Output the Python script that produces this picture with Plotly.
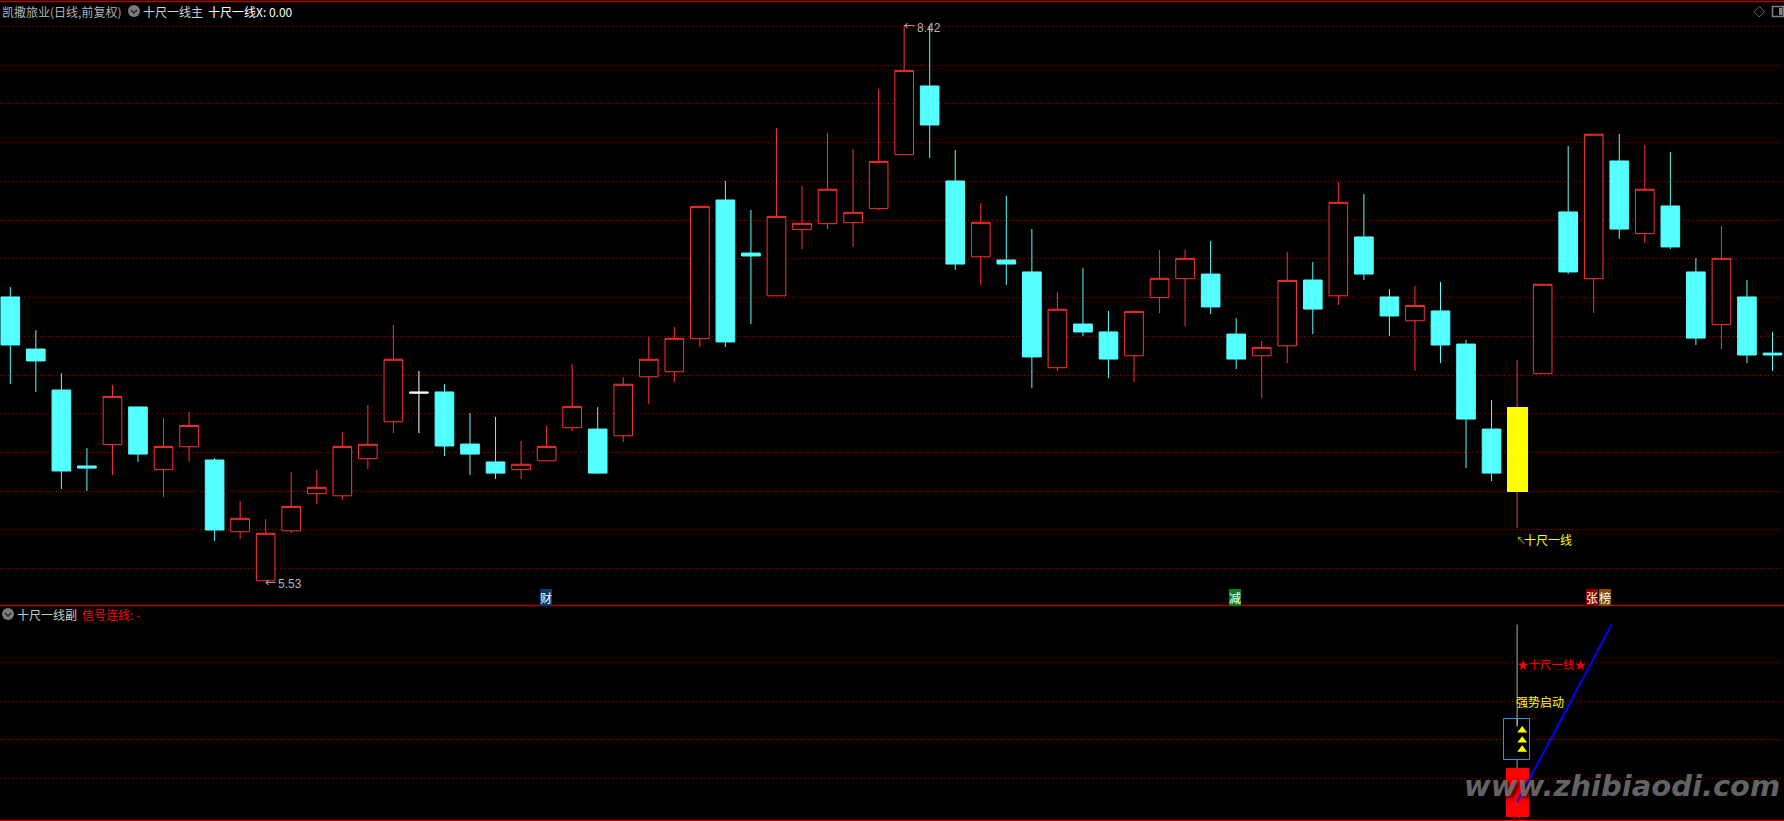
import plotly.graph_objects as go

W, H = 1784, 821
# ---- main pane daily prices ----
kinds = ["c","c","c","c","r","c","r","r","c","r","r","r","r","r","r","r","w","c","c","c",
         "r","r","r","c","r","r","r","r","c","c","r","r","r","r","r","r","c","c","r","c",
         "c","r","c","c","r","r","r","c","c","r","r","c","r","c","c","r","c","c","c","y",
         "r","c","r","c","r","c","c","r","c","c"]
highs = [7.058,6.834,6.610,6.220,6.548,6.434,6.376,6.408,6.168,5.945,5.851,6.096,6.106,6.304,6.444,6.860,6.621,6.553,6.402,6.382,
         6.257,6.335,6.657,6.434,6.588,6.798,6.850,7.477,7.609,7.458,7.884,7.583,7.858,7.775,8.087,8.420,8.415,7.770,7.494,7.531,
         7.359,7.032,7.156,6.933,6.933,7.250,7.250,7.297,6.896,6.777,7.240,7.188,7.604,7.541,7.047,7.063,7.084,6.782,6.470,6.678,
         7.072,7.791,7.852,7.853,7.796,7.760,7.208,7.375,7.094,6.824]
tops  = [7.006,6.735,6.522,6.127,6.489,6.434,6.229,6.338,6.158,5.855,5.777,5.917,6.016,6.229,6.240,6.682,6.512,6.512,6.241,6.148,
         6.136,6.229,6.437,6.319,6.552,6.682,6.791,7.477,7.510,7.234,7.425,7.389,7.566,7.446,7.711,8.184,8.103,7.609,7.394,7.198,
         7.136,6.942,6.865,6.824,6.931,7.103,7.207,7.125,6.813,6.744,7.092,7.094,7.498,7.318,7.006,6.962,6.933,6.761,6.319,6.434,
         7.072,7.448,7.852,7.713,7.566,7.479,7.136,7.207,7.006,6.714]
bots  = [6.756,6.673,6.101,6.116,6.238,6.189,6.108,6.227,5.794,5.785,5.530,5.790,5.983,5.972,6.165,6.357,6.506,6.231,6.189,6.090,
         6.108,6.154,6.326,6.090,6.284,6.591,6.617,6.789,6.772,7.219,7.012,7.356,7.387,7.392,7.465,7.746,7.900,7.177,7.215,7.177,
         6.694,6.638,6.824,6.683,6.700,7.002,7.101,6.954,6.683,6.700,6.752,6.943,7.012,7.125,6.907,6.882,6.756,6.371,6.090,5.992,
         6.607,7.136,7.101,7.359,7.335,7.266,6.792,6.862,6.704,6.704]
lows  = [6.553,6.512,6.007,5.997,6.080,6.148,5.966,6.148,5.737,5.747,5.530,5.778,5.929,5.950,6.111,6.298,6.298,6.179,6.080,6.059,
         6.059,6.154,6.309,6.090,6.252,6.449,6.564,6.746,6.746,6.865,7.012,7.255,7.359,7.266,7.458,7.746,7.728,7.146,7.068,7.068,
         6.532,6.621,6.803,6.584,6.564,6.922,6.855,6.917,6.631,6.480,6.662,6.813,6.964,7.094,6.803,6.621,6.662,6.116,6.049,5.804,
         6.607,7.125,6.922,7.307,7.286,7.255,6.756,6.735,6.662,6.621]
grid_prices = [8.413,8.212,8.010,7.809,7.607,7.406,7.205,7.003,6.802,6.600,6.399,6.197,5.996,5.795,5.593]
# ---- lower pane signal values ----
lower_grid = [20, 40, 60, 80]
signal_x = 59
stick_top = 100
red_bar_top = 25.5
box_top, box_bot = 50.9, 29.5
tri_x = 59.2
tri_vals = [45.0, 39.8, 35.0]
line_x = [59, 62.7]
line_y = [7.6, 100]

RED, CYAN, YELLOW = "#ff3232", "#54ffff", "#ffff00"
GRID = "#9a0000"
FRAME = "#b00000"
GRAY = "#b4b4b4"
CJK = "Noto Sans CJK SC"
SPLIT = 1 - 606 / H

idx = list(range(len(highs)))
def pick(kind):
    return [i for i in idx if kinds[i] in kind]

fig = go.Figure()

def candle(ix, color, fill, width=1, op=None, cl=None, hi=None, lo=None):
    fig.add_trace(go.Candlestick(
        x=ix, open=op, close=cl, high=hi, low=lo,
        increasing=dict(line=dict(color=color, width=width), fillcolor=fill),
        decreasing=dict(line=dict(color=color, width=width), fillcolor=fill),
        hoverinfo="skip", showlegend=False, xaxis="x", yaxis="y"))

r = pick("r")
candle(r, RED, "#000000", op=[bots[i] for i in r], cl=[tops[i] for i in r],
       hi=[highs[i] for i in r], lo=[lows[i] for i in r])
c = pick("c")
candle(c, CYAN, CYAN, op=[tops[i] for i in c], cl=[bots[i] for i in c],
       hi=[highs[i] for i in c], lo=[lows[i] for i in c])
w = pick("w")
candle(w, "#ffffff", "#ffffff", op=[tops[i] for i in w], cl=[bots[i] for i in w],
       hi=[highs[i] for i in w], lo=[lows[i] for i in w])
# the signal day: yellow body with red wicks
sd = pick("y")[0]
fig.add_trace(go.Bar(x=[sd], y=[tops[sd] - bots[sd]], base=[bots[sd]], width=0.82,
                     marker=dict(color=YELLOW, line=dict(width=0)),
                     hoverinfo="skip", showlegend=False, xaxis="x", yaxis="y"))
fig.add_trace(go.Scatter(x=[sd, sd, None, sd, sd], y=[highs[sd], tops[sd], None, bots[sd], lows[sd]],
                         mode="lines", line=dict(color=RED, width=1),
                         hoverinfo="skip", showlegend=False, xaxis="x", yaxis="y"))

# lower pane
fig.add_trace(go.Scatter(x=[signal_x, signal_x, None, signal_x, signal_x],
                         y=[stick_top, box_top, None, box_bot, red_bar_top], mode="lines",
                         line=dict(color="#a8a8a8", width=1),
                         hoverinfo="skip", showlegend=False, xaxis="x2", yaxis="y2"))
fig.add_trace(go.Bar(x=[signal_x], y=[red_bar_top], width=0.9, marker=dict(color="#ff0000", line=dict(width=0)),
                     hoverinfo="skip", showlegend=False, xaxis="x2", yaxis="y2"))
fig.add_trace(go.Bar(x=[signal_x], y=[box_top - box_bot], base=[box_bot], width=1.02,
                     marker=dict(color="#000000", line=dict(color="#1e9fe6", width=1)),
                     hoverinfo="skip", showlegend=False, xaxis="x2", yaxis="y2"))
fig.add_trace(go.Scatter(x=[signal_x, signal_x], y=[box_top, 47], mode="lines", line=dict(color="#ffffff", width=1),
                         hoverinfo="skip", showlegend=False, xaxis="x2", yaxis="y2"))
fig.add_trace(go.Scatter(x=[tri_x] * len(tri_vals), y=tri_vals, mode="markers",
                         marker=dict(symbol="triangle-up", size=8.5, color=YELLOW),
                         hoverinfo="skip", showlegend=False, xaxis="x2", yaxis="y2"))
fig.add_trace(go.Scatter(x=line_x, y=line_y, mode="lines", line=dict(color="#0000ff", width=2),
                         hoverinfo="skip", showlegend=False, xaxis="x2", yaxis="y2"))
fig.add_trace(go.Scatter(x=[signal_x], y=[-1.2], mode="markers",
                         marker=dict(symbol="circle-open", size=6, color="#ff0000", line=dict(width=1, color="#ff0000")),
                         hoverinfo="skip", showlegend=False, xaxis="x2", yaxis="y2", cliponaxis=False))

def px(v): return v / W
def py(v): return 1 - v / H

def label(x, yy, text, color, size=12, anchor="left", bg=None, family=CJK, **kw):
    fig.add_annotation(xref="paper", yref="paper", x=px(x), y=py(yy), text=text, showarrow=False,
                       xanchor=anchor, yanchor="middle", borderpad=0, borderwidth=0,
                       bgcolor=bg, font=dict(family=family, size=size, color=color), **kw)

label(2, 11, "凯撒旅业(日线,前复权)", GRAY)
label(143, 11, "十尺一线主", "#d0d0d0")
label(208, 11, "十尺一线X: 0.00", "#ffffff")
label(17, 614, "十尺一线副", "#c8c8c8")
label(82, 614, "信号连线: -", "#ff0000")
# price extreme labels
label(904, 25, "←", GRAY, size=11)
label(917, 28, "8.42", GRAY, size=12, family="Liberation Sans")
label(265, 582, "←", GRAY, size=11)
label(278, 584, "5.53", GRAY, size=12, family="Liberation Sans")
label(1516, 539, "↖", "#b4b400", size=10)
label(1524, 539, "十尺一线", YELLOW)
# badges
label(539.5, 597.5, "财", "#ffffff", size=12, bg="#0a3a6e")
label(1229, 597.5, "减", "#ffffff", size=12, bg="#0a8020")
label(1586, 597.5, "张", "#ffffff", size=12, bg="#8a0000")
label(1598.5, 597.5, "榜", "#ffffff", size=12, bg="#8a4a00")
# lower pane texts
label(1517, 663.5, "★十尺一线★", "#ff0000", size=11.5)
label(1516, 701, "强势启动", YELLOW)
# watermark
fig.add_annotation(xref="paper", yref="paper", x=px(1622), y=py(786), text="www.zhibiaodi.com", showarrow=False,
                   xanchor="center", yanchor="middle", borderpad=0,
                   font=dict(family="DejaVu Sans", size=29, color="rgba(122,122,122,0.82)", style="italic", weight="bold",
                             shadow="2px 2px 4px #000000"))

def hline(yv, x0=0, x1=W, color=FRAME, width=1):
    fig.add_shape(type="line", xref="paper", yref="paper", x0=px(x0), x1=px(x1), y0=py(yv), y1=py(yv),
                  line=dict(color=color, width=width), layer="above")
hline(1.5, width=1.5)
hline(605.5, width=1.5)
hline(820.5, color="#d00000", width=1.5)
# header icons
for cx, cy in [(134, 11), (8, 614)]:
    fig.add_shape(type="circle", xref="paper", yref="paper", x0=px(cx - 6), x1=px(cx + 6), y0=py(cy - 6), y1=py(cy + 6),
                  fillcolor="#7c7c7c", line=dict(width=0))
    fig.add_shape(type="path", xref="paper", yref="paper",
                  path=f"M {px(cx-3)} {py(cy-1)} L {px(cx)} {py(cy+2)} L {px(cx+3)} {py(cy-1)}",
                  line=dict(color="#2a2a2a", width=1.5))
fig.add_shape(type="path", xref="paper", yref="paper",
              path=f"M {px(1754)} {py(11.7)} L {px(1759.3)} {py(6.4)} L {px(1764.6)} {py(11.7)} L {px(1759.3)} {py(17)} Z",
              line=dict(color="#707070", width=1))
fig.add_shape(type="rect", xref="paper", yref="paper", x0=px(1772.5), x1=px(1783.5), y0=py(6.5), y1=py(16.5),
              line=dict(color="#808080", width=1.5))
fig.add_shape(type="rect", xref="paper", yref="paper", x0=px(1779), x1=px(1782.5), y0=py(8), y1=py(15),
              fillcolor="#808080", line=dict(width=0))

x_range = [-0.403, 69.45]
axis_common = dict(showticklabels=False, ticks="", zeroline=False, showline=False, fixedrange=True)
fig.update_layout(
    width=W, height=H, autosize=False, margin=dict(l=0, r=0, t=0, b=0, pad=0),
    paper_bgcolor="#000000", plot_bgcolor="#000000", showlegend=False,
    boxgap=0.27, boxgroupgap=0, boxmode="overlay", barmode="overlay", bargap=0,
    xaxis=dict(domain=[0, 1], range=x_range, anchor="y", showgrid=False, rangeslider=dict(visible=False), **axis_common),
    yaxis=dict(domain=[SPLIT, 1], range=[5.399, 8.55], anchor="x", showgrid=True, gridcolor=GRID, griddash="1px,3px",
               gridwidth=1, tickmode="array", tickvals=grid_prices, **axis_common),
    xaxis2=dict(domain=[0, 1], range=x_range, anchor="y2", showgrid=False, matches="x", **axis_common),
    yaxis2=dict(domain=[0, SPLIT], range=[-2.08, 109.6], anchor="x2", showgrid=True, gridcolor=GRID, griddash="1px,3px",
                gridwidth=1, tickmode="array", tickvals=lower_grid, **axis_common),
)
fig.write_html("out.html", config=dict(displayModeBar=False),
               post_script="document.body.style.margin='0';document.documentElement.style.overflow='hidden';")
